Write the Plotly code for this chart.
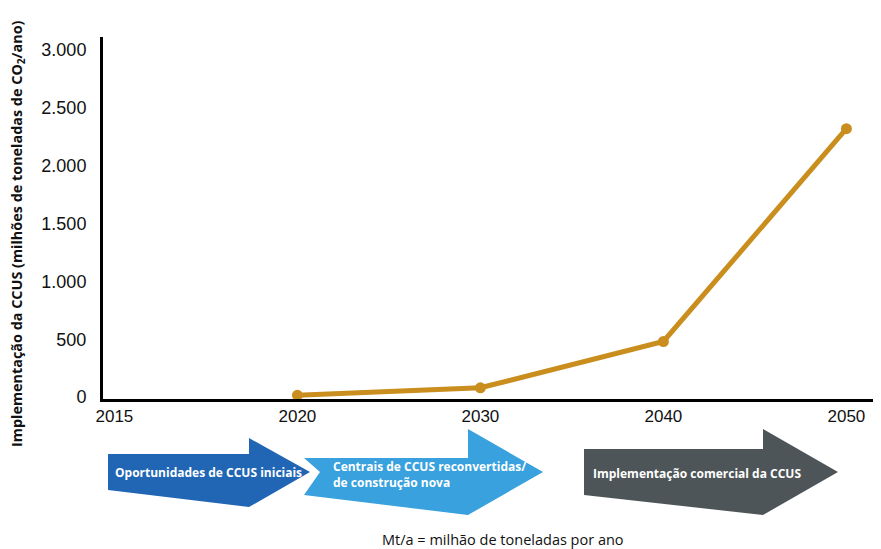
import plotly.graph_objects as go

years = ["2015", "2020", "2030", "2040", "2050"]
line_years = ["2020", "2030", "2040", "2050"]
ccus_mt = [15, 80, 480, 2320]
y_ticks = [0, 500, 1000, 1500, 2000, 2500, 3000]
phase_labels = [
    "Oportunidades de CCUS iniciais",
    "Centrais de CCUS reconvertidas/<br>de construção nova",
    "Implementação comercial da CCUS",
]
phase_colors = ["#2166B5", "#38A1DE", "#4E5558"]

# the page body has an 8px default margin, so the figure is offset
OFF = 8
W, H = 881 - OFF, 549 - OFF
L, R, T, B = 103 - OFF, 0, 37 - OFF, 150
PW, PH = W - L - R, H - T - B


def px(x):
    return (x - OFF - L) / PW


def py(y):
    return (H - B - (y - OFF)) / PH


fig = go.Figure()
fig.add_trace(go.Scatter(
    x=line_years, y=ccus_mt, mode="lines+markers",
    line=dict(color="#C98E1E", width=5),
    marker=dict(color="#C98E1E", size=11),
    showlegend=False, cliponaxis=False,
))


def arrow(x0, x1, xt, yb0, yb1, yh0, yh1, yc, notch=0):
    pts = [(x0, yb0), (x1, yb0), (x1, yh0), (xt, yc), (x1, yh1), (x0, yb1)]
    if notch:
        pts.append((x0 + notch, yc))
    return "M " + " L ".join(f"{px(a):.5f},{py(b):.5f}" for a, b in pts) + " Z"


arrows = [
    arrow(108, 249, 310, 454, 490, 438, 507, 472),
    arrow(304, 468, 543, 458, 495, 429, 515, 472, notch=16),
    arrow(584, 763, 838, 449, 495, 429, 515, 472),
]
for d, c in zip(arrows, phase_colors):
    fig.add_shape(type="path", path=d, xref="paper", yref="paper",
                  fillcolor=c, line=dict(width=0), layer="above")

label_pos = [(113, 472), (331, 475), (591, 473)]
for (x, y), t in zip(label_pos, phase_labels):
    fig.add_annotation(x=px(x), y=py(y), xref="paper", yref="paper",
                       text=f"<b>{t}</b>", showarrow=False, xanchor="left",
                       yanchor="middle", align="left",
                       font=dict(family="Open Sans", size=12, color="white"))

fig.add_annotation(x=px(503), y=py(539), xref="paper", yref="paper",
                   text="Mt/a = milhão de toneladas por ano", showarrow=False,
                   xanchor="center", yanchor="middle",
                   font=dict(family="Open Sans", size=14.5, color="#111"))

fig.add_annotation(x=px(17), y=py(234), xref="paper", yref="paper",
                   text="<b>Implementação da CCUS (milhões de toneladas de CO<sub>2</sub>/ano)</b>",
                   showarrow=False, textangle=-90, xanchor="center", yanchor="middle",
                   font=dict(family="Open Sans", size=14.4, color="#111"))

fig.update_layout(
    width=W, height=H, margin=dict(l=L, r=R, t=T, b=B),
    paper_bgcolor="white", plot_bgcolor="white",
    separators=",.",
    font=dict(family="Liberation Sans", color="#111"),
    xaxis=dict(type="category", categoryorder="array", categoryarray=years,
               range=[-0.0623, 4.189], showgrid=False, zeroline=False,
               showline=True, linecolor="black", linewidth=3,
               ticks="", tickfont=dict(size=17)),
    yaxis=dict(range=[-17, 3112], tickvals=y_ticks, tickformat=",d",
               showgrid=False, zeroline=False, showline=True,
               linecolor="black", linewidth=3, ticks="outside", ticklen=10,
               tickcolor="white", tickfont=dict(size=18)),
)

fig.write_html("out.html")
